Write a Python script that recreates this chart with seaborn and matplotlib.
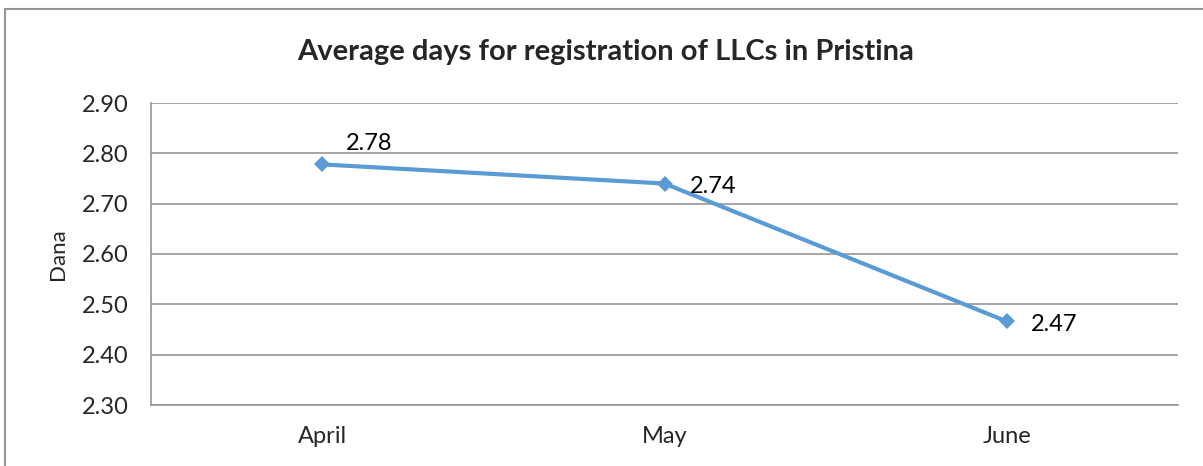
import matplotlib
matplotlib.use("Agg")
import matplotlib.pyplot as plt
import pandas as pd
import seaborn as sns

months = ["April", "May", "June"]
avg_days = [2.778, 2.740, 2.466]
labels = ["2.78", "2.74", "2.47"]
yticks = [2.30, 2.40, 2.50, 2.60, 2.70, 2.80, 2.90]

df = pd.DataFrame({"month": months, "days": avg_days})

sns.set_style("white")
plt.rcParams["font.family"] = ["Lato", "DejaVu Sans"]

fig = plt.figure(figsize=(12.03, 4.66), dpi=100)
ax = fig.add_axes([151 / 1203, 1 - 405 / 466, (1178 - 151) / 1203, (405 - 103) / 466])

sns.lineplot(data=df, x="month", y="days", ax=ax, color="#5B9BD5",
             linewidth=3, marker="D", markersize=8, markeredgewidth=0,
             sort=False)

# data labels, Excel-ish placement
offsets = [(17, 15), (18, -2), (17, -2)]
for i, (v, t) in enumerate(zip(avg_days, labels)):
    ax.annotate(t, (i, v), xytext=offsets[i], textcoords="offset points",
                fontsize=17, ha="left", va="center", color="black")

ax.set_xlim(-0.5, 2.5)
ax.set_ylim(2.30, 2.90)
ax.set_yticks(yticks)
ax.set_yticklabels([f"{y:.2f}" for y in yticks])
ax.grid(axis="y", color="#969696", linewidth=1.2)
ax.set_axisbelow(True)
for s in ["top", "right"]:
    ax.spines[s].set_visible(False)
for s in ["left", "bottom"]:
    ax.spines[s].set_color("#969696")
    ax.spines[s].set_linewidth(1.2)
ax.tick_params(axis="both", length=0, labelsize=17)
ax.tick_params(axis="y", pad=16)
ax.tick_params(axis="x", pad=15)
ax.set_xlabel("")
ax.set_ylabel("Dana", fontsize=16, labelpad=10)

fig.text(606 / 1203, 1 - 52 / 466, "Average days for registration of LLCs in Pristina",
         ha="center", va="center", fontsize=21, fontweight="bold")

# outer chart border
border = plt.Rectangle((5 / 1203, -0.1), 1.2, 1 - 9 / 466 + 0.1,
                       transform=fig.transFigure, fill=False,
                       edgecolor="#969696", linewidth=1.5)
fig.patches.append(border)

fig.savefig("out.png", dpi=100)
